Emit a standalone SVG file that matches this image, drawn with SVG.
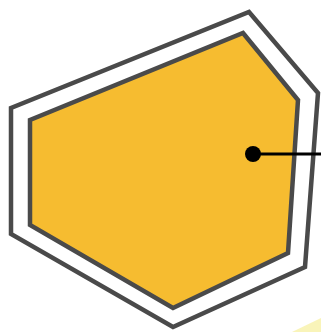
<svg xmlns="http://www.w3.org/2000/svg" width="321" height="332" viewBox="0 0 321 332">
<style>
.outline{fill:none;stroke:#4a4a4a;stroke-width:4.5;stroke-linejoin:miter}
.core{fill:#f6bc30;stroke:#4a4a4a;stroke-width:4.5;stroke-linejoin:miter}
.lead{stroke:#000;stroke-width:3}
</style>
<rect width="321" height="332" fill="#fff"/>
<polygon points="292,332 321,318 321,332" fill="#f7f1a8" opacity="0.8"/>
<g id="outer-shell">
<polygon class="outline" points="249,12 318,93 305,267 173,327 11,234 11,108"/>
</g>
<g id="inner-core">
<polygon class="core" points="243,33 298,100 288,253 173,308 30,225 30,120"/>
</g>
<g id="connectors">
<line class="lead" x1="253" y1="154" x2="321" y2="154"/>
<circle cx="253" cy="154" r="8" fill="#000"/>
</g>
</svg>
